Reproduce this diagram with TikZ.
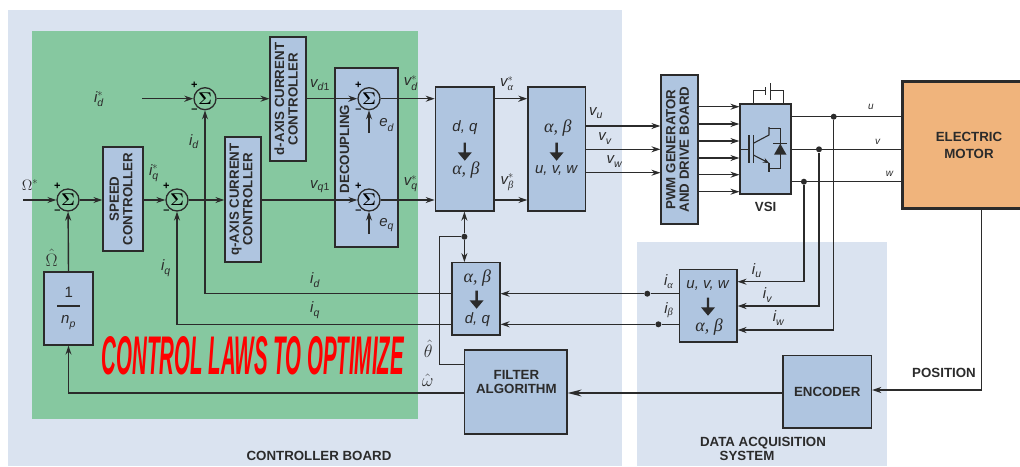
\RequirePackage{fix-cm}
\documentclass[tikz,border=0pt]{standalone}
\usepackage{amsmath}
\usepackage{amssymb}
\usepackage{graphicx}
\usepackage{fontspec}
\setmainfont{Liberation Sans}
\newfontfamily\grk{Liberation Serif}
\usepackage{tikz}
\usetikzlibrary{shapes.arrows,arrows.meta}
\definecolor{boardbg}{HTML}{DAE3F0}
\definecolor{lawbg}{HTML}{86C8A0}
\definecolor{blockbg}{HTML}{AFC5E0}
\definecolor{motorbg}{HTML}{F0B47C}
\definecolor{ink}{HTML}{2B2B2B}
\newcommand{\sig}[3]{$\textit{#1}_{\textit{#2}}^{#3}$}
\newcommand{\vtxt}[1]{\rotatebox{90}{\begin{tabular}{@{}c@{}}#1\end{tabular}}}
\newcommand{\gra}{\text{\grk\itshape α}}
\newcommand{\grb}{\text{\grk\itshape β}}
\tikzset{
	blk/.style={draw=ink,fill=blockbg,line width=1.2pt,inner sep=0pt,align=center,
		font=\fontsize{13.3}{13.5}\selectfont\bfseries,text=ink},
	sumblk/.style={circle,draw=ink,line width=1.3pt,inner sep=0pt,minimum size=22pt,
		font=\fontsize{17}{17}\selectfont,text=black,
		label={[inner sep=0pt,font=\fontsize{11}{11}\selectfont\bfseries,xshift=1.5pt,yshift=1.5pt]135:+},
		label={[inner sep=0pt,font=\fontsize{11}{11}\selectfont\bfseries,xshift=1.5pt,yshift=-1.5pt]225:--}},
	lbl/.style={inner sep=0pt,font=\fontsize{15}{15}\selectfont,text=ink},
	hatlbl/.style={lbl,font=\fontsize{18}{18}\selectfont},
	grklbl/.style={lbl,font=\fontsize{18}{18}\selectfont\grk\itshape},
	captxt/.style={inner sep=0pt,align=center,font=\fontsize{13.3}{13.5}\selectfont\bfseries,text=ink},
	dot/.style={circle,fill=ink,inner sep=0pt,minimum size=6pt},
	fatdown/.style={single arrow,fill=ink,draw=none,shape border rotate=270,inner sep=0pt,
		minimum width=14pt,minimum height=18pt,single arrow head extend=3.5pt,single arrow tip angle=80},
	ar/.style={-{Stealth[length=9pt,width=6pt]}},
	bigar/.style={-{Stealth[length=14pt,width=7pt]}},
}
\begin{document}
\begin{tikzpicture}[x=1pt,y=-1pt,line width=1.4pt,draw=ink]
		\def\yd{98.7}
		\def\yq{200}
		\def\yid{293.7}
		\def\yiq{324.3}
		\def\yu{116.7}
		\def\yv{149.3}
		\def\yw{181.7}
		\useasboundingbox (0,0) rectangle (1020,466);
		% background areas
		\path[fill=boardbg] (8,10) rectangle (622,466);
		\path[fill=boardbg] (636.6,241.5) rectangle (887,466);
		\path[fill=lawbg] (32,30.5) rectangle (418,418.7);
		% blocks
		\node[blk,minimum width=36pt,minimum height=124pt] (dctrl) at (288,99) {\vtxt{d-AXIS CURRENT\\CONTROLLER}};
		\node[blk,minimum width=36pt,minimum height=125pt] (qctrl) at (243,199.5) {\vtxt{q-AXIS CURRENT\\CONTROLLER}};
		\node[blk,minimum width=40pt,minimum height=104pt] (speed) at (123,199) {\vtxt{SPEED\\CONTROLLER}};
		\node[blk,minimum width=63pt,minimum height=179pt] (decoup) at (366.5,157.5) {};
		\node[captxt] (decoupt) at (346.5,149) {\vtxt{DECOUPLING}};
		\node[blk,minimum width=49pt,minimum height=73pt] (np) at (68.5,308.5) {};
		\node[blk,minimum width=58.7pt,minimum height=124pt] (dqab) at (464.6,149) {};
		\node[blk,minimum width=57.7pt,minimum height=124pt] (abuvw) at (556.8,149) {};
		\node[blk,minimum width=37pt,minimum height=149pt] (pwm) at (679.5,149.5) {\vtxt{PWM GENERATOR\\AND DRIVE BOARD}};
		\node[blk,minimum width=51pt,minimum height=90pt] (vsi) at (765.5,149) {};
		\node[blk,fill=motorbg,line width=3pt,minimum width=134pt,minimum height=127pt,font=\fontsize{13.3}{17.5}\selectfont\bfseries] (motor) at (969,145.2) {ELECTRIC\\MOTOR};
		\node[blk,minimum width=48pt,minimum height=72.3pt] (abdq) at (476,298.8) {};
		\node[blk,minimum width=57.5pt,minimum height=72.7pt] (uvwab) at (708.2,305.6) {};
		\node[blk,minimum width=102.6pt,minimum height=84pt] (filter) at (515.7,392) {};
		\node[captxt] (filtert) at (516.4,382) {FILTER\\ALGORITHM};
		\node[blk,minimum width=88.6pt,minimum height=72.3pt] (encoder) at (827.3,391.8) {ENCODER};
		% summing points
		\node[sumblk] (sumw) at (68,\yq) {$\boldsymbol{\Sigma}$};
		\node[sumblk] (sumq) at (177,\yq) {$\boldsymbol{\Sigma}$};
		\node[sumblk] (sumd) at (205,\yd) {$\boldsymbol{\Sigma}$};
		\node[sumblk] (sumvd) at (369,\yd) {$\boldsymbol{\Sigma}$};
		\node[sumblk] (sumvq) at (369,\yq) {$\boldsymbol{\Sigma}$};
		% free ends and junctions
		\coordinate (wref) at (23,\yq);
		\coordinate (idref) at (142,\yd);
		\coordinate (edin) at (369,133);
		\coordinate (eqin) at (369,234);
		\coordinate (thtop) at (439.5,236.7);
		\node[dot] (jtheta) at (464.4,236.7) {};
		\node[dot] (dotu) at (833.7,\yu) {};
		\node[dot] (dotv) at (819,\yv) {};
		\node[dot] (dotw) at (803.9,\yw) {};
		\node[dot] (dota) at (647.3,\yid) {};
		\node[dot] (dotb) at (658.4,\yiq) {};
		% forward path
		\draw[ar] (wref)--(sumw);
		\draw[ar] (sumw)--(speed.west |- sumw);
		\draw[ar] (speed.east |- sumq)--(sumq);
		\draw[ar] (sumq)--(qctrl.west |- sumq);
		\draw[ar] (idref)--(sumd);
		\draw[ar] (sumd)--(dctrl.west |- sumd);
		\draw[ar] (dctrl.east |- sumvd)--(sumvd);
		\draw[ar] (qctrl.east |- sumvq)--(sumvq);
		\draw[ar] (edin)--(sumvd);
		\draw[ar] (eqin)--(sumvq);
		\draw[ar] (sumvd)--(dqab.west |- sumvd);
		\draw[ar] (sumvq)--(dqab.west |- sumvq);
		\draw[ar] (dqab.east |- 0,\yd)--(abuvw.west |- 0,\yd);
		\draw[ar] (dqab.east |- 0,\yq)--(abuvw.west |- 0,\yq);
		\foreach \y in {126,149.3,172.7}
			\draw[ar] (abuvw.east |- 0,\y)--(pwm.west |- 0,\y);
		\foreach \y in {106.7,124,141,158,174.7,191.7}
			\draw[ar] (pwm.east |- 0,\y)--(vsi.west |- 0,\y);
		\foreach \y in {\yu,\yv,\yw}
			\draw (vsi.east |- 0,\y)--(motor.west |- 0,\y);
		% feedback
		\draw[ar] (np.north)--(sumw);
		\draw[ar] (abdq.west |- 0,\yid)-|(sumd);
		\draw[ar] (abdq.west |- 0,\yiq)-|(sumq);
		\draw[ar] (dota)--(abdq.east |- dota);
		\draw[ar] (dotb)--(abdq.east |- dotb);
		\draw (uvwab.west |- dota)--(dota);
		\draw (uvwab.west |- dotb)--(dotb);
		\draw[ar] (dotw)|-(uvwab.east |- 0,281.7);
		\draw[ar] (dotv)|-(uvwab.east |- 0,306);
		\draw[ar] (dotu)|-(uvwab.east |- 0,330);
		\draw (filter.west |- 0,364.3)-|(thtop)--(jtheta);
		\draw[ar] (jtheta)--(dqab.south -| jtheta);
		\draw[ar] (jtheta)--(abdq.north -| jtheta);
		\draw[ar] (filter.west |- 0,393)-|(np.south);
		\draw[bigar] (encoder.west |- 0,393)--(filter.east |- 0,393);
		\draw[ar] (motor.south -| 981.4,0)|-(encoder.east |- 0,390);
		% capacitor above the bridge
		\draw[line width=1.1pt] (753.7,104)--(753.7,90.7)--(765.7,90.7);
		\draw[line width=1.1pt] (783.5,104)--(783.5,90.7)--(770.7,90.7);
		\draw[line width=1.1pt] (765.7,87)--(765.7,95);
		\draw[line width=1.1pt] (770.7,83)--(770.7,100);
		% igbt and diode
		\draw[line width=1.1pt] (740,149.3)--(749,149.3);
		\draw[line width=1.1pt] (749,135)--(749,163);
		\draw[line width=1.1pt] (753.3,135)--(753.3,163);
		\draw[line width=1.1pt] (753.3,143.3)--(769,135)--(769,127);
		\draw[line width=1.1pt] (769,128.3)--(780.7,128.3)--(780.7,168.3)--(769,168.3);
		\draw[line width=1.1pt,-{Stealth[length=6pt,width=5pt]}] (753.3,155)--(769,163);
		\draw[line width=1.1pt] (769,162.5)--(769,172);
		\draw[line width=1.1pt] (773.3,143.7)--(786.7,143.7);
		\fill[ink] (780.3,143.7)--(774,154.7)--(786.5,154.7)--cycle;
		% thick arrows in the converters
		\node[fatdown] (ardq) at (464.8,151) {};
		\node[fatdown] (aruvw) at (556.6,151) {};
		\node[fatdown] (arabdq) at (476.6,299) {};
		\node[fatdown] (aruvwab) at (708,306) {};
		% block texts
		\node[lbl] (tdq) at (465,128) {\textit{d, q}};
		\node[grklbl] (tab) at (466,170) {α, β};
		\node[grklbl] (tab2) at (557.8,128) {α, β};
		\node[lbl] (tuvw) at (556.6,170) {\textit{u, v, w}};
		\node[grklbl] (tab3) at (477.4,277.7) {α, β};
		\node[lbl] (tdq2) at (477.4,319.3) {\textit{d, q}};
		\node[lbl] (tuvw2) at (708,285) {\textit{u, v, w}};
		\node[grklbl] (tab4) at (709,326.7) {α, β};
		\node[lbl] (tone) at (68.7,292.7) {1};
		\draw[line width=1.1pt] (57,306)--(80,306);
		\node[lbl] (tnp) at (68.5,322.7) {\sig{n}{p}{}};
		% signal labels
		\node[lbl] (lwref) at (30,185) {$\Omega^{*}$};
		\node[hatlbl] (lwhat) at (51.7,258) {$\hat{\Omega}$};
		\node[lbl] (lidref) at (99,99) {\sig{i}{d}{*}};
		\node[lbl] (liqref) at (154,173) {\sig{i}{q}{*}};
		\node[lbl] (lid) at (194,141.7) {\sig{i}{d}{}};
		\node[lbl] (liq) at (166,268) {\sig{i}{q}{}};
		\node[lbl] (lid2) at (315,280) {\sig{i}{d}{}};
		\node[lbl] (liq2) at (315,310) {\sig{i}{q}{}};
		\node[lbl] (lvd1) at (320,85) {$\textit{v}_{\textit{d}\mathrm{1}}$};
		\node[lbl] (lvq1) at (320,186.7) {$\textit{v}_{\textit{q}\mathrm{1}}$};
		\node[lbl] (led) at (386.7,125) {\sig{e}{d}{}};
		\node[lbl] (leq) at (386.7,225) {\sig{e}{q}{}};
		\node[lbl] (lvd) at (410.7,82.7) {\sig{v}{d}{*}};
		\node[lbl] (lvq) at (410.7,183.3) {\sig{v}{q}{*}};
		\node[lbl] (lva) at (506.9,83.3) {$\textit{v}_{\gra}^{*}$};
		\node[lbl] (lvb) at (507.3,182.3) {$\textit{v}_{\grb}^{*}$};
		\node[lbl] (lvu) at (596,113) {\sig{v}{u}{}};
		\node[lbl] (lvv) at (605,138.3) {\sig{v}{v}{}};
		\node[lbl] (lvw) at (614.4,161.7) {\sig{v}{w}{}};
		\node[hatlbl] (ltheta) at (428.3,349) {$\hat{\theta}$};
		\node[hatlbl] (lomega) at (427.7,380) {$\hat{\omega}$};
		\node[lbl] (lia) at (668.8,281.7) {$\textit{i}_{\gra}$};
		\node[lbl] (lib) at (668.8,310) {$\textit{i}_{\grb}$};
		\node[lbl] (liu) at (756.8,270.7) {\sig{i}{u}{}};
		\node[lbl] (liv) at (767.5,295) {\sig{i}{v}{}};
		\node[lbl] (liw) at (778.6,318.3) {\sig{i}{w}{}};
		\node[lbl,font=\fontsize{10}{10}\selectfont\itshape] (lu) at (871,107) {u};
		\node[lbl,font=\fontsize{10}{10}\selectfont\itshape] (lv) at (877.7,142) {v};
		\node[lbl,font=\fontsize{10}{10}\selectfont\itshape] (lw) at (889.6,174) {w};
		% captions
		\node[captxt] (cvsi) at (765.6,207) {VSI};
		\node[captxt] (cpos) at (944,373) {POSITION};
		\node[captxt] (cboard) at (319,456) {CONTROLLER BOARD};
		\node[captxt] (cdaq) at (763,442.7) {DATA ACQUISITION};
		\node[captxt] (cdaq2) at (747,456) {SYSTEM};
		\node[inner sep=0pt,text=red] (claws) at (252.8,356) {\resizebox{302pt}{38pt}{\bfseries\itshape CONTROL LAWS TO OPTIMIZE}};
	\end{tikzpicture}
\end{document}
